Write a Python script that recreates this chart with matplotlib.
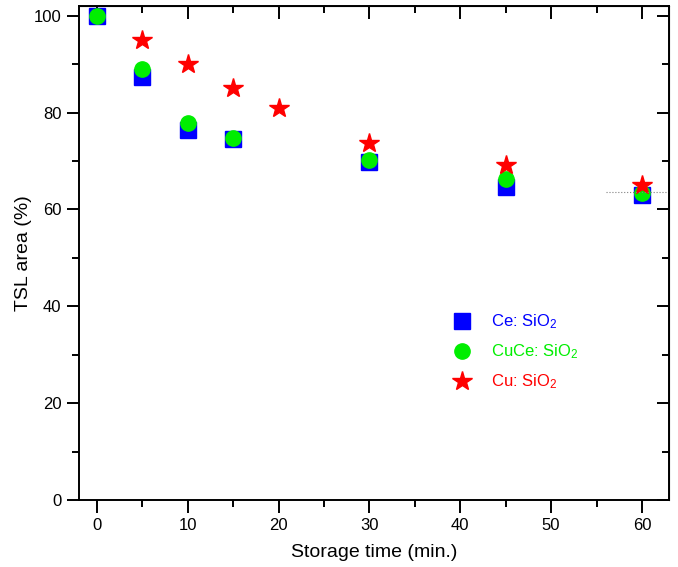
import matplotlib
matplotlib.use('Agg')
import matplotlib.pyplot as plt
from matplotlib.ticker import MultipleLocator

plt.rcParams['font.family'] = ['Liberation Sans', 'DejaVu Sans']
plt.rcParams['mathtext.default'] = 'regular'

# storage times (min.) and normalised TSL area (%)
t_ce = [0, 5, 10, 15, 30, 45, 60]
ce = [100, 87.3, 76.5, 74.6, 69.8, 64.7, 63.0]

t_cuce = [0, 5, 10, 15, 30, 45, 60]
cuce = [100, 89.0, 77.8, 74.7, 70.2, 66.3, 63.3]

t_cu = [5, 10, 15, 20, 30, 45, 60]
cu = [95.0, 90.1, 85.1, 81.0, 73.7, 69.2, 65.1]

# the little dotted reference line near the last point
ref_y = 63.6
ref_x = [56, 62.8]

fig = plt.figure(figsize=(6.78, 5.67), dpi=100)
ax = fig.add_axes([0.116, 0.1176, 0.871, 0.872])

ax.plot(t_ce, ce, 's', color='#0000ff', markersize=11, label='Ce: SiO$_2$')
ax.plot(t_cuce, cuce, 'o', color='#00ee00', markersize=11, label='CuCe: SiO$_2$')
ax.plot(t_cu, cu, '*', color='#ff0000', markersize=15, label='Cu: SiO$_2$')
ax.hlines(ref_y, ref_x[0], ref_x[1], colors='gray', linestyles=':', linewidth=0.8)

ax.set_xlim(-2, 63)
ax.set_ylim(0, 102)

ax.xaxis.set_major_locator(MultipleLocator(10))
ax.xaxis.set_minor_locator(MultipleLocator(5))
ax.yaxis.set_major_locator(MultipleLocator(20))
ax.yaxis.set_minor_locator(MultipleLocator(10))

for s in ax.spines.values():
    s.set_linewidth(1.4)

# outward ticks on bottom/left, inward mirrored ticks on top/right
ax.tick_params(which='both', direction='out', width=1.4, labelsize=12)
ax.tick_params(which='major', length=9)
ax.tick_params(which='minor', length=5)

top = ax.secondary_xaxis('top')
top.xaxis.set_major_locator(MultipleLocator(10))
top.xaxis.set_minor_locator(MultipleLocator(5))
top.tick_params(which='both', direction='in', width=1.4, labeltop=False)
top.tick_params(which='major', length=9)
top.tick_params(which='minor', length=5)
right = ax.secondary_yaxis('right')
right.yaxis.set_major_locator(MultipleLocator(20))
right.yaxis.set_minor_locator(MultipleLocator(10))
right.tick_params(which='both', direction='in', width=1.4, labelright=False)
right.tick_params(which='major', length=9)
right.tick_params(which='minor', length=5)

ax.set_xlabel('Storage time (min.)', fontsize=14, labelpad=8)
ax.set_ylabel('TSL area (%)', fontsize=14, labelpad=1)

leg = ax.legend(loc='upper left', bbox_to_anchor=(0.596, 0.41), frameon=False,
                fontsize=12, handletextpad=0.7, labelspacing=0.68)
for txt, c in zip(leg.get_texts(), ['#0000ff', '#00ee00', '#ff0000']):
    txt.set_color(c)

fig.savefig('out.png', dpi=100)
